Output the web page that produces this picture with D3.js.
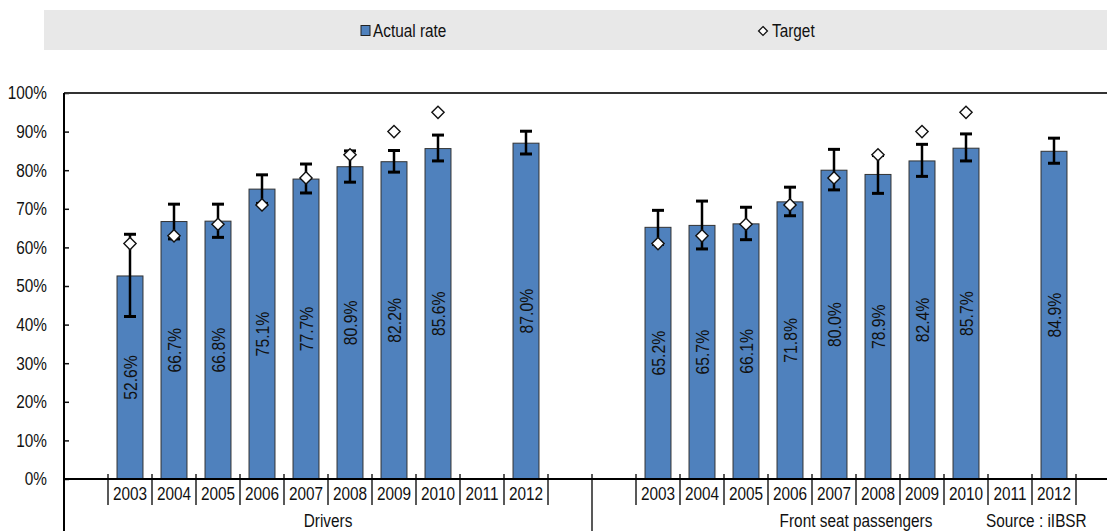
<!DOCTYPE html>
<html>
<head>
<meta charset="utf-8">
<script src="https://cdn.jsdelivr.net/npm/d3@7"></script>
<style>
  body { margin: 0; background: #fff; }
  svg { display: block; font-family: 'Liberation Sans', Arial, sans-serif; }
</style>
</head>
<body>
<svg id="chart" width="1107" height="531"></svg>
<script>
// data
var groups = ["Drivers", "Front seat passengers"],
    years = ["2003", "2004", "2005", "2006", "2007", "2008", "2009", "2010", "2011", "2012"],
    yTicks = [0, 0.1, 0.2, 0.3, 0.4, 0.5, 0.6, 0.7, 0.8, 0.9, 1];

var driversRate = [52.6, 66.7, 66.8, 75.1, 77.7, 80.9, 82.2, 85.6, null, 87.0],
    driversLow  = [42.1, 62.2, 62.6, 71.4, 74.1, 76.9, 79.5, 82.4, null, 84.2],
    driversHigh = [63.4, 71.2, 71.2, 78.8, 81.6, 85.0, 85.1, 89.1, null, 90.1],
    driversTarget = [61, 63, 66, 71, 78, 84, 90, 95, null, null];

var passengersRate = [65.2, 65.7, 66.1, 71.8, 80.0, 78.9, 82.4, 85.7, null, 84.9],
    passengersLow  = [60.8, 59.6, 62.0, 68.2, 74.9, 74.0, 78.4, 82.4, null, 81.8],
    passengersHigh = [69.6, 72.0, 70.4, 75.6, 85.4, 83.8, 86.7, 89.4, null, 88.3],
    passengersTarget = [61, 63, 66, 71, 78, 84, 90, 95, null, null];

var series = [
  {group: groups[0], rate: driversRate, low: driversLow, high: driversHigh, target: driversTarget},
  {group: groups[1], rate: passengersRate, low: passengersLow, high: passengersHigh, target: passengersTarget}
];

var margin = {top: 93, left: 64},
    plotBottom = 479,
    barColor = "#4f81bd",
    fontSize = "18.5px",
    squeeze = 0.83;

var svg = d3.select("#chart");

// fake a narrow face: move x/y into a transform and squeeze horizontally
function narrow(sel){
  sel.each(function(){
    var t = d3.select(this),
        x = +t.attr("x") || 0,
        y = +t.attr("y") || 0,
        rot = t.attr("data-rot");
    t.attr("x", 0).attr("y", 0)
      .attr("transform", "translate(" + x + "," + y + ")" + (rot ? " rotate(" + rot + ")" : "") + " scale(" + squeeze + ",1)");
  });
}

// scales
var xGroup = d3.scaleBand().domain(groups).range([margin.left, margin.left + 1056]).padding(0);
var xYear = d3.scaleBand().domain(years).range([0, xGroup.bandwidth()]).paddingInner(0).paddingOuter(1);
var y = d3.scaleLinear().domain([0, 1]).range([plotBottom, margin.top]);

// legend
svg.append("rect")
  .attr("x", 44).attr("y", 10).attr("width", 1070).attr("height", 40)
  .style("fill", "#e8e8e8");
svg.append("rect")
  .attr("x", 361).attr("y", 25.5).attr("width", 9).attr("height", 10)
  .style("fill", barColor).style("stroke", "#222").style("stroke-width", 1);
svg.append("text")
  .attr("x", 373).attr("y", 31).attr("dy", "0.35em")
  .style("font-size", fontSize).style("fill", "#111")
  .text("Actual rate")
  .call(narrow);
svg.append("path")
  .attr("d", d3.symbol(d3.symbolDiamond2, 50)())
  .attr("transform", "translate(763,31)")
  .style("fill", "#fff").style("stroke", "#111").style("stroke-width", 1.3);
svg.append("text")
  .attr("x", 772).attr("y", 31).attr("dy", "0.35em")
  .style("font-size", fontSize).style("fill", "#111")
  .text("Target")
  .call(narrow);

// y axis
var yAxis = svg.append("g")
  .attr("transform", "translate(" + margin.left + ",0)")
  .call(d3.axisLeft(y).tickValues(yTicks).tickFormat(d3.format(".0%")).tickSize(-5).tickPadding(17));
yAxis.select(".domain").remove();
yAxis.selectAll(".tick line").style("stroke", "#111").style("stroke-width", 1.5);
yAxis.selectAll("text").style("font-size", fontSize).style("fill", "#111").style("font-family", null).call(narrow);

// top frame line
svg.append("line")
  .attr("x1", margin.left).attr("x2", 1107)
  .attr("y1", y(1)).attr("y2", y(1))
  .style("stroke", "#333").style("stroke-width", 2);

// per group
series.forEach(function(s){
  var g = svg.append("g").attr("transform", "translate(" + xGroup(s.group) + ",0)");
  var rows = years.map(function(yr, i){
    return {year: yr, rate: s.rate[i], low: s.low[i], high: s.high[i], target: s.target[i]};
  });
  var bw = xYear.bandwidth() * 0.59;

  // bars
  g.selectAll(".bar")
    .data(rows.filter(function(d){ return d.rate != null; }))
    .enter().append("rect")
      .attr("class", "bar")
      .attr("x", function(d){ return xYear(d.year) + (xYear.bandwidth() - bw) / 2; })
      .attr("width", bw)
      .attr("y", function(d){ return y(d.rate / 100); })
      .attr("height", function(d){ return plotBottom - y(d.rate / 100); })
      .style("fill", barColor)
      .style("stroke", "#333")
      .style("stroke-width", 1);

  // value labels
  g.selectAll(".val")
    .data(rows.filter(function(d){ return d.rate != null; }))
    .enter().append("text")
      .attr("class", "val")
      .attr("x", function(d){ return xYear(d.year) + xYear.bandwidth() / 2; })
      .attr("y", function(d){ return (y(d.rate / 100) + plotBottom) / 2; })
      .attr("data-rot", -90)
      .attr("dy", "0.35em")
      .style("text-anchor", "middle")
      .style("font-size", "19px")
      .style("fill", "#111")
      .text(function(d){ return d.rate.toFixed(1) + "%"; })
      .call(narrow);

  // error bars
  var err = g.selectAll(".err")
    .data(rows.filter(function(d){ return d.low != null; }))
    .enter().append("g").attr("class", "err")
      .attr("transform", function(d){ return "translate(" + (xYear(d.year) + xYear.bandwidth() / 2) + ",0)"; });
  err.append("line")
    .attr("y1", function(d){ return y(d.low / 100); })
    .attr("y2", function(d){ return y(d.high / 100); })
    .style("stroke", "#000").style("stroke-width", 2.5);
  err.append("line")
    .attr("x1", -6).attr("x2", 6)
    .attr("y1", function(d){ return y(d.low / 100); })
    .attr("y2", function(d){ return y(d.low / 100); })
    .style("stroke", "#000").style("stroke-width", 3);
  err.append("line")
    .attr("x1", -6).attr("x2", 6)
    .attr("y1", function(d){ return y(d.high / 100); })
    .attr("y2", function(d){ return y(d.high / 100); })
    .style("stroke", "#000").style("stroke-width", 3);

  // targets
  g.selectAll(".target")
    .data(rows.filter(function(d){ return d.target != null; }))
    .enter().append("path")
      .attr("class", "target")
      .attr("d", d3.symbol(d3.symbolDiamond2, 95)())
      .attr("transform", function(d){
        return "translate(" + (xYear(d.year) + xYear.bandwidth() / 2) + "," + y(d.target / 100) + ")";
      })
      .style("fill", "#fff").style("stroke", "#111").style("stroke-width", 1.4);

  // year labels
  var xAxis = g.append("g")
    .attr("transform", "translate(0," + plotBottom + ")")
    .call(d3.axisBottom(xYear).tickSize(0).tickPadding(8));
  xAxis.select(".domain").remove();
  xAxis.selectAll("text").style("font-size", fontSize).style("fill", "#111").style("font-family", null).call(narrow);

  // year separators
  var bounds = years.map(function(yr){ return xYear(yr); }).concat([xYear(years[years.length - 1]) + xYear.step()]);
  g.selectAll(".sep")
    .data(bounds)
    .enter().append("line")
      .attr("x1", function(d){ return d; }).attr("x2", function(d){ return d; })
      .attr("y1", plotBottom - 5).attr("y2", plotBottom + 26)
      .style("stroke", "#222").style("stroke-width", 1.5);

  // group label
  g.append("text")
    .attr("x", xGroup.bandwidth() / 2).attr("y", 521).attr("dy", "0.35em")
    .style("text-anchor", "middle").style("font-size", fontSize).style("fill", "#111")
    .text(s.group)
    .call(narrow);

  // group separator (right edge)
  g.append("line")
    .attr("x1", xGroup.bandwidth()).attr("x2", xGroup.bandwidth())
    .attr("y1", plotBottom - 5).attr("y2", 531)
    .style("stroke", "#222").style("stroke-width", 1.5);
});

// x axis baseline
svg.append("line")
  .attr("x1", margin.left).attr("x2", 1107)
  .attr("y1", plotBottom).attr("y2", plotBottom)
  .style("stroke", "#000").style("stroke-width", 2);

// y axis line, running down past the labels
svg.append("line")
  .attr("x1", margin.left).attr("x2", margin.left)
  .attr("y1", y(1)).attr("y2", 531)
  .style("stroke", "#000").style("stroke-width", 2);

// source
svg.append("text")
  .attr("x", 986).attr("y", 527)
  .style("font-size", fontSize).style("fill", "#111")
  .text("Source : iIBSR")
  .call(narrow);
</script>
</body>
</html>
